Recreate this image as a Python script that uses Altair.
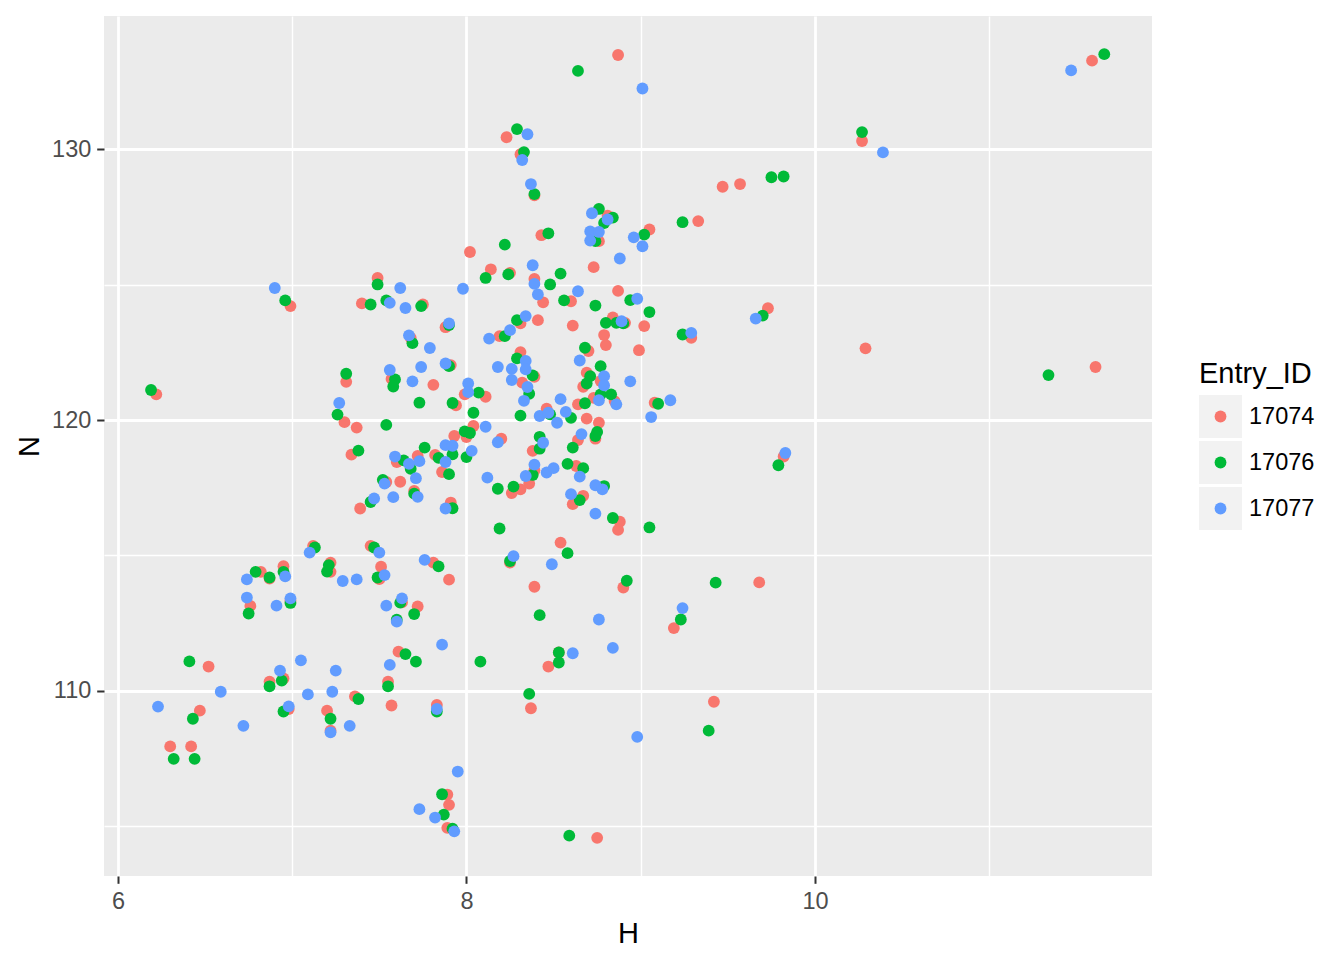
import altair as alt
import pandas as pd

ids = ["17074", "17076", "17077"]
colors = ["#F8766D", "#00BA38", "#619CFF"]

h_17074 = [8.87, 11.59, 8.23, 10.27, 9.47, 9.57, 9.33, 9.05, 8.81, 8.76, 8.43, 8.02, 8.73, 8.14, 8.25, 8.39,
           8.44, 8.87, 8.60, 9.73, 6.99, 7.49, 7.40, 7.75, 7.88, 7.68, 7.57, 7.81, 7.31, 6.22, 7.30, 7.37,
           7.34, 7.60, 7.72, 7.82, 7.93, 7.86, 7.54, 7.62, 7.70, 7.39, 7.91, 7.12, 7.45, 7.81, 7.90, 6.82,
           6.87, 6.95, 7.22, 7.22, 7.51, 7.50, 6.76, 6.99, 7.63, 7.72, 7.61, 7.55, 7.57, 7.83, 6.52, 6.95,
           6.87, 7.36, 6.47, 6.98, 7.20, 7.22, 6.30, 6.42, 7.89, 7.90, 7.89, 9.19, 8.47, 8.53, 8.37, 9.42,
           8.75, 8.41, 8.31, 8.61, 8.91, 8.84, 9.02, 9.29, 8.19, 8.79, 8.80, 8.99, 8.31, 8.39, 8.32, 8.11,
           7.99, 7.94, 8.04, 8.00, 8.20, 8.46, 8.64, 8.70, 8.69, 8.67, 8.77, 8.85, 8.73, 8.69, 8.76, 9.08,
           8.64, 8.74, 8.38, 8.39, 8.36, 8.63, 8.26, 8.31, 8.61, 8.67, 8.88, 8.87, 8.54, 8.25, 8.39, 8.90,
           9.68, 9.82, 10.29, 11.61, 8.31, 8.39, 7.91]
n_17074 = [133.49, 133.28, 130.45, 130.31, 128.62, 128.72, 127.35, 127.04, 127.55, 126.61, 126.83, 126.21,
           125.65, 125.57, 125.44, 125.21, 124.35, 124.77, 124.39, 124.13, 124.21, 125.25, 124.31, 124.27,
           123.43, 123.03, 121.52, 121.30, 121.41, 120.95, 119.92, 119.72, 118.72, 118.45, 118.67, 118.71,
           119.41, 118.08, 117.71, 117.72, 117.38, 116.73, 116.95, 115.35, 115.35, 114.73, 114.10, 114.39,
           114.14, 114.60, 114.73, 114.39, 114.58, 114.12, 113.13, 113.32, 113.26, 113.11, 111.44, 110.33,
           109.45, 109.47, 110.89, 110.45, 110.33, 109.79, 109.26, 109.32, 109.26, 108.52, 107.94, 107.94,
           106.16, 105.78, 104.93, 112.31, 110.89, 111.41, 109.35, 109.59, 104.56, 123.69, 123.57, 123.49,
           123.59, 123.79, 123.47, 123.04, 123.10, 123.14, 122.77, 122.58, 122.51, 121.60, 121.38, 120.86,
           120.95, 120.54, 119.78, 119.37, 119.31, 120.42, 120.58, 122.55, 121.75, 121.23, 121.44, 120.70,
           120.82, 120.05, 119.90, 120.64, 119.26, 119.31, 118.86, 118.14, 117.65, 118.30, 117.30, 117.44,
           116.89, 117.20, 116.24, 115.94, 115.47, 114.73, 113.84, 113.81, 114.00, 118.65, 122.65, 121.96,
           129.82, 128.30, 122.03]

h_17076 = [8.64, 11.66, 10.27, 8.29, 8.33, 8.39, 9.75, 9.82, 8.76, 8.84, 8.79, 9.02, 9.24, 8.74, 8.47, 8.22,
           8.11, 8.24, 8.48, 8.54, 8.56, 8.74, 8.94, 6.96, 7.49, 7.45, 7.54, 7.74, 7.69, 7.59, 7.58, 7.90,
           7.73, 7.92, 7.31, 6.19, 7.26, 7.54, 7.38, 7.64, 7.68, 7.76, 7.84, 7.90, 7.52, 7.70, 7.45, 7.92,
           7.13, 7.47, 7.84, 6.79, 6.87, 6.95, 7.21, 7.20, 7.49, 6.75, 6.99, 7.62, 7.70, 7.60, 7.65, 7.71,
           7.55, 7.83, 6.41, 6.94, 6.87, 7.38, 6.43, 6.95, 7.22, 6.32, 6.44, 7.86, 7.87, 7.92, 8.42, 9.23,
           8.08, 8.53, 8.53, 8.36, 9.39, 8.59, 9.05, 9.70, 8.29, 8.80, 8.86, 8.90, 9.24, 8.22, 8.29, 8.38,
           8.36, 8.07, 8.04, 8.31, 7.99, 8.02, 8.00, 7.92, 8.48, 8.60, 8.68, 8.68, 8.77, 8.71, 8.69, 8.77,
           8.83, 9.10, 8.61, 8.75, 8.74, 8.42, 8.42, 8.38, 8.58, 8.67, 8.18, 8.27, 8.79, 8.65, 8.84, 9.05,
           8.19, 8.58, 8.25, 8.92, 9.43, 9.79, 11.34, 7.90]
n_17076 = [132.90, 133.52, 130.64, 130.75, 129.90, 128.35, 128.97, 129.00, 127.80, 127.48, 127.28, 126.85,
           127.31, 126.61, 126.90, 126.48, 125.25, 125.38, 125.01, 125.41, 124.42, 124.23, 124.43, 124.42,
           125.01, 124.27, 124.42, 124.21, 122.84, 121.50, 121.24, 121.99, 120.64, 120.63, 121.71, 121.11,
           120.20, 119.82, 118.87, 118.51, 118.20, 118.98, 118.60, 118.00, 117.79, 117.28, 116.97, 116.74,
           115.29, 115.29, 114.59, 114.39, 114.18, 114.39, 114.64, 114.40, 114.18, 112.85, 113.24, 113.25,
           112.83, 112.62, 111.35, 111.07, 110.16, 109.23, 111.08, 110.37, 110.16, 109.69, 108.96, 109.23,
           108.96, 107.48, 107.48, 106.17, 105.42, 104.90, 112.79, 112.63, 111.07, 111.41, 111.04, 109.88,
           108.52, 104.64, 123.99, 123.86, 123.69, 123.59, 123.59, 123.57, 123.16, 123.10, 122.28, 121.65,
           120.97, 121.01, 120.27, 120.16, 119.58, 119.52, 118.63, 118.73, 120.21, 120.08, 120.62, 122.67,
           121.99, 121.62, 121.35, 120.95, 120.95, 120.60, 118.98, 119.56, 119.41, 119.38, 118.94, 117.97,
           118.38, 118.22, 117.46, 117.54, 117.56, 117.04, 116.38, 116.03, 115.99, 115.08, 114.79, 114.06,
           113.99, 118.33, 121.66, 123.51]

h_17077 = [9.01, 11.47, 10.39, 8.35, 8.32, 8.37, 8.72, 8.81, 8.96, 9.01, 8.71, 8.76, 8.71, 8.38, 8.88, 8.39,
           8.41, 8.64, 8.98, 7.98, 6.90, 7.62, 7.56, 7.65, 7.90, 7.67, 7.79, 7.56, 7.74, 7.69, 7.88, 7.27,
           7.59, 7.67, 7.73, 7.88, 7.92, 7.88, 7.53, 7.71, 7.72, 7.58, 7.47, 7.88, 7.10, 7.50, 7.76, 6.74,
           6.96, 7.29, 7.37, 7.53, 6.74, 6.91, 6.99, 7.54, 7.63, 7.60, 7.86, 7.56, 7.83, 7.05, 6.93, 6.59,
           7.25, 7.09, 7.23, 6.23, 6.72, 6.98, 7.22, 7.33, 7.95, 7.73, 7.82, 7.93, 9.24, 8.76, 8.61, 8.84,
           8.98, 9.66, 8.34, 8.89, 9.29, 8.25, 8.13, 8.34, 8.34, 8.18, 8.26, 8.26, 8.35, 8.33, 8.01, 8.01,
           8.11, 8.18, 8.03, 8.42, 8.47, 8.52, 8.54, 8.57, 8.65, 8.79, 8.79, 8.94, 8.76, 8.86, 9.17, 9.06,
           8.66, 8.44, 8.39, 8.34, 8.46, 8.50, 8.65, 8.12, 8.74, 8.78, 8.60, 8.74, 8.27, 8.49, 9.83]
n_17077 = [132.25, 132.92, 129.89, 130.56, 129.61, 128.72, 127.64, 127.41, 126.75, 126.42, 126.97, 126.95,
           126.63, 125.72, 125.97, 125.03, 124.64, 124.76, 124.48, 124.85, 124.88, 124.88, 124.33, 124.14,
           123.57, 123.13, 122.66, 121.85, 121.96, 121.43, 122.09, 120.63, 118.65, 118.38, 118.48, 119.07,
           119.05, 118.45, 117.65, 117.85, 117.16, 117.15, 117.10, 116.73, 115.10, 115.10, 114.83, 114.11,
           114.22, 114.05, 114.11, 114.27, 113.44, 113.14, 113.41, 113.14, 113.41, 112.55, 111.70, 110.95,
           109.32, 111.12, 110.74, 109.96, 110.74, 109.86, 109.96, 109.41, 108.70, 109.42, 108.46, 108.70,
           107.01, 105.62, 105.31, 104.80, 113.05, 112.63, 111.38, 111.58, 108.29, 123.75, 123.84, 123.65,
           123.22, 123.32, 123.01, 122.18, 121.87, 121.96, 121.89, 121.48, 121.22, 120.71, 121.35, 121.03,
           119.75, 119.18, 118.86, 120.15, 120.27, 119.90, 120.77, 120.30, 122.20, 121.62, 121.28, 121.43,
           120.73, 120.58, 120.73, 120.11, 119.48, 119.16, 118.35, 117.93, 118.06, 118.22, 117.91, 117.87,
           117.59, 117.44, 117.26, 116.54, 114.97, 114.67, 118.78]

x_ticks = [6, 7, 8, 9, 10, 11]
y_ticks = [105, 110, 115, 120, 125, 130]

frames = []
for eid, hs, ns in ((ids[0], h_17074, n_17074), (ids[1], h_17076, n_17076), (ids[2], h_17077, n_17077)):
    frames.append(pd.DataFrame({"H": hs, "N": ns, "Entry_ID": eid}))
df = pd.concat(frames, ignore_index=True)
leg_df = pd.DataFrame({"Entry_ID": ids})
title_df = pd.DataFrame({"t": ["Entry_ID"]})

font = "Liberation Sans"
color_scale = alt.Scale(domain=ids, range=colors)
pt_size = 140

xaxis = alt.Axis(
    values=x_ticks,
    labelExpr="datum.value % 2 == 0 ? datum.label : ''",
    gridWidth={"condition": {"test": "datum.value % 2 == 0", "value": 2.8}, "value": 1.4},
    tickOpacity={"condition": {"test": "datum.value % 2 == 0", "value": 1}, "value": 0},
    labelFlush=False,
    labelOverlap=False,
)
yaxis = alt.Axis(
    values=y_ticks,
    labelExpr="datum.value % 10 == 0 ? datum.label : ''",
    gridWidth={"condition": {"test": "datum.value % 10 == 0", "value": 2.8}, "value": 1.4},
    tickOpacity={"condition": {"test": "datum.value % 10 == 0", "value": 1}, "value": 0},
    labelFlush=False,
    labelOverlap=False,
)

points = alt.Chart(df).mark_circle(size=pt_size, opacity=1).encode(
    x=alt.X("H:Q", scale=alt.Scale(domain=[5.92, 11.934], nice=False, zero=False), axis=xaxis, title="H"),
    y=alt.Y("N:Q", scale=alt.Scale(domain=[103.15, 134.93], nice=False, zero=False), axis=yaxis, title="N"),
    color=alt.Color("Entry_ID:N", scale=color_scale, legend=None),
)

key_y = alt.Y("Entry_ID:N", axis=None,
              scale=alt.Scale(type="point", domain=ids, range=[400.5, 492.5], padding=0))

keys = alt.Chart(leg_df).mark_square(size=1849, color="#F2F2F2", opacity=1).encode(
    x=alt.value(1116.5), y=key_y)
dots = alt.Chart(leg_df).mark_circle(size=pt_size, opacity=1).encode(
    x=alt.value(1116.5), y=key_y,
    color=alt.Color("Entry_ID:N", scale=color_scale, legend=None))
labels = alt.Chart(leg_df).mark_text(align="left", baseline="middle", fontSize=23.5, font=font,
                                     color="black").encode(
    x=alt.value(1145), y=key_y, text="Entry_ID:N")
leg_title = alt.Chart(title_df).mark_text(align="left", baseline="alphabetic", fontSize=29, font=font,
                                          color="black").encode(
    x=alt.value(1095), y=alt.value(367), text="t:N")

chart = alt.layer(points, keys, dots, labels, leg_title).resolve_scale(
    y="independent"
).properties(
    width=1048,
    height=860,
    autosize=alt.AutoSizeParams(type="none"),
    padding={"left": 96, "top": 8, "right": 184, "bottom": 76},
).configure_view(
    fill="#EBEBEB", strokeWidth=0
).configure_axis(
    domain=False,
    gridColor="white",
    tickColor="#333333",
    tickWidth=2,
    tickSize=7.3,
    labelFont=font,
    labelFontSize=23.5,
    labelColor="#4D4D4D",
    labelPadding=5.9,
    titleFont=font,
    titleFontSize=29,
    titleFontWeight="normal",
    titleColor="black",
    titlePadding=7,
)

chart.save("out.html", embed_options={"renderer": "svg", "actions": False})
